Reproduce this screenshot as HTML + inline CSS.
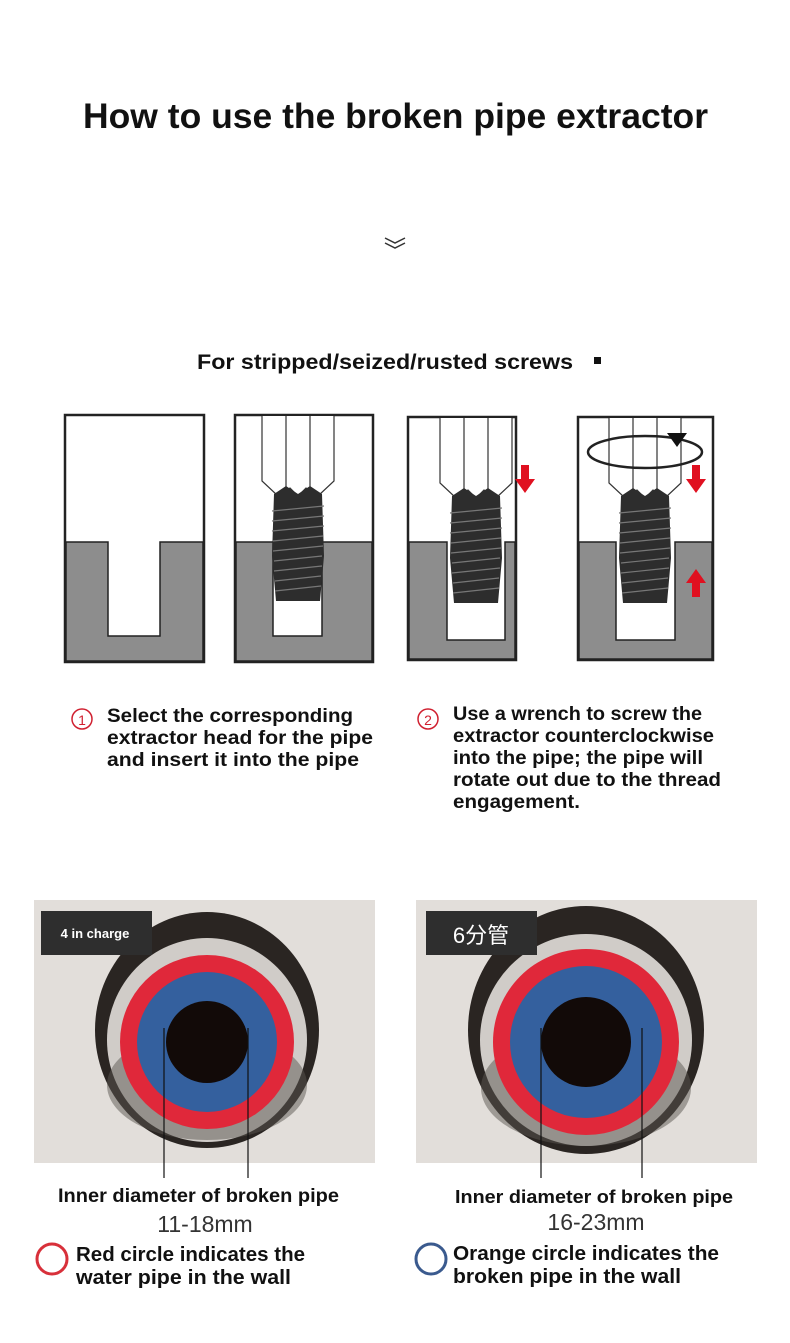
<!DOCTYPE html>
<html><head><meta charset="utf-8"><style>
body{margin:0;background:#fff;}
svg text{font-family:"Liberation Sans","Noto Sans CJK SC",sans-serif;}
</style></head><body>
<svg width="790" height="1338" viewBox="0 0 790 1338" xmlns="http://www.w3.org/2000/svg">
<rect width="790" height="1338" fill="#fff"/>
<text x="83" y="128" font-size="35" font-weight="bold" fill="#111" textLength="625" lengthAdjust="spacingAndGlyphs">How to use the broken pipe extractor</text>
<path d="M385 238 L395 243 L405 238 M385 243 L395 248 L405 243" stroke="#333" stroke-width="1.5" fill="none"/>
<text x="197" y="369" font-size="21" font-weight="bold" fill="#111" textLength="376" lengthAdjust="spacingAndGlyphs">For stripped/seized/rusted screws</text>
<rect x="594" y="357" width="7" height="7" fill="#111"/>

<defs>
<g id="ext">
 <path d="M-36 0 V65 L-20 80 L-8 72 L0 80 L8 72 L20 80 L36 65 V0" fill="#fff" stroke="#333" stroke-width="1.2"/>
 <path d="M-12 0 V72 M12 0 V72" stroke="#333" stroke-width="1.2"/>
 <path d="M-24 78 L-12 70 L0 78 L12 70 L24 78 L26 140 L22 185 L-22 185 L-26 140 Z" fill="#2d2d2d"/>
 <g stroke="#777" stroke-width="1.2">
  <path d="M-26 95 L26 90 M-26 105 L26 100 M-26 115 L26 110 M-25 125 L25 120 M-25 135 L25 130 M-24 145 L24 140 M-24 155 L24 150 M-23 165 L23 160 M-23 175 L23 170"/>
 </g>
</g>
</defs>

<rect x="65" y="415" width="139" height="247" fill="#fff" stroke="#222" stroke-width="2.5"/>
<path d="M66 542 H108 V636 H160 V542 H203 V661 H66 Z" fill="#8d8d8d" stroke="#222" stroke-width="1.5"/>
<rect x="235" y="415" width="138" height="247" fill="#fff" stroke="#222" stroke-width="2.5"/>
<path d="M236 542 H273 V636 H322 V542 H372 V661 H236 Z" fill="#8d8d8d" stroke="#222" stroke-width="1.5"/>
<use href="#ext" transform="translate(298,416)"/>
<rect x="408" y="417" width="108" height="243" fill="#fff" stroke="#222" stroke-width="2.5"/>
<path d="M409 542 H447 V640 H505 V542 H515 V659 H409 Z" fill="#8d8d8d" stroke="#222" stroke-width="1.5"/>
<use href="#ext" transform="translate(476,418)"/>
<path d="M521 465 h8 v14 h6 l-10 14 l-10 -14 h6z" fill="#e01020"/>
<rect x="578" y="417" width="135" height="243" fill="#fff" stroke="#222" stroke-width="2.5"/>
<path d="M579 542 H616 V640 H675 V542 H712 V659 H579 Z" fill="#8d8d8d" stroke="#222" stroke-width="1.5"/>
<use href="#ext" transform="translate(645,418)"/>
<ellipse cx="645" cy="452" rx="57" ry="16" fill="none" stroke="#222" stroke-width="2.5"/>
<path d="M667 433 h20 l-10 14z" fill="#111"/>
<path d="M692 465 h8 v14 h6 l-10 14 l-10 -14 h6z" fill="#e01020"/>
<path d="M692 597 h8 v-14 h6 l-10 -14 l-10 14 h6z" fill="#e01020"/>

<circle cx="82" cy="719" r="10" fill="none" stroke="#d02030" stroke-width="1.5"/>
<text x="82" y="725" text-anchor="middle" font-size="14" fill="#d02030">1</text>
<g font-size="19" font-weight="bold" fill="#111">
<text x="107" y="722" textLength="246" lengthAdjust="spacingAndGlyphs">Select the corresponding</text>
<text x="107" y="744" textLength="266" lengthAdjust="spacingAndGlyphs">extractor head for the pipe</text>
<text x="107" y="766" textLength="252" lengthAdjust="spacingAndGlyphs">and insert it into the pipe</text>
</g>
<circle cx="428" cy="719" r="10" fill="none" stroke="#d02030" stroke-width="1.5"/>
<text x="428" y="725" text-anchor="middle" font-size="14" fill="#d02030">2</text>
<g font-size="19" font-weight="bold" fill="#111">
<text x="453" y="720" textLength="249" lengthAdjust="spacingAndGlyphs">Use a wrench to screw the</text>
<text x="453" y="742" textLength="261" lengthAdjust="spacingAndGlyphs">extractor counterclockwise</text>
<text x="453" y="764" textLength="250" lengthAdjust="spacingAndGlyphs">into the pipe; the pipe will</text>
<text x="453" y="786" textLength="268" lengthAdjust="spacingAndGlyphs">rotate out due to the thread</text>
<text x="453" y="808" textLength="127" lengthAdjust="spacingAndGlyphs">engagement.</text>
</g>

<rect x="34" y="900" width="341" height="263" fill="#e2deda"/>
<ellipse cx="207" cy="1030" rx="112" ry="118" fill="#2a2522"/>
<ellipse cx="207" cy="1040" rx="100" ry="102" fill="#d0ccc8"/>
<ellipse cx="207" cy="1085" rx="100" ry="55" fill="#5a5550" opacity="0.5"/>
<circle cx="207" cy="1042" r="87" fill="#e0283a"/>
<circle cx="207" cy="1042" r="70" fill="#34609e"/>
<circle cx="207" cy="1042" r="41" fill="#120a08"/>
<rect x="41" y="911" width="111" height="44" fill="#2e2e2e"/>
<text x="95" y="938" text-anchor="middle" font-size="13" font-weight="bold" fill="#fff">4 in charge</text>
<path d="M164 1028 V1178 M248 1028 V1178" stroke="#111" stroke-width="1.2"/>

<rect x="416" y="900" width="341" height="263" fill="#e2deda"/>
<ellipse cx="586" cy="1030" rx="118" ry="124" fill="#2a2522"/>
<ellipse cx="586" cy="1040" rx="106" ry="106" fill="#d0ccc8"/>
<ellipse cx="586" cy="1088" rx="105" ry="58" fill="#5a5550" opacity="0.5"/>
<circle cx="586" cy="1042" r="93" fill="#e0283a"/>
<circle cx="586" cy="1042" r="76" fill="#34609e"/>
<circle cx="586" cy="1042" r="45" fill="#120a08"/>
<rect x="426" y="911" width="111" height="44" fill="#2e2e2e"/>
<text x="481" y="943" text-anchor="middle" font-size="22" fill="#fff">6分管</text>
<path d="M541 1028 V1178 M642 1028 V1178" stroke="#111" stroke-width="1.2"/>

<text x="58" y="1202" font-size="19" font-weight="bold" fill="#111" textLength="281" lengthAdjust="spacingAndGlyphs">Inner diameter of broken pipe</text>
<text x="205" y="1232" text-anchor="middle" font-size="23" fill="#333">11-18mm</text>
<circle cx="52" cy="1259" r="15" fill="none" stroke="#d8303a" stroke-width="3"/>
<g font-size="20" font-weight="bold" fill="#111">
<text x="76" y="1261" textLength="229" lengthAdjust="spacingAndGlyphs">Red circle indicates the</text>
<text x="76" y="1284" textLength="215" lengthAdjust="spacingAndGlyphs">water pipe in the wall</text>
</g>
<text x="455" y="1203" font-size="18" font-weight="bold" fill="#111" textLength="278" lengthAdjust="spacingAndGlyphs">Inner diameter of broken pipe</text>
<text x="596" y="1230" text-anchor="middle" font-size="23" fill="#333">16-23mm</text>
<circle cx="431" cy="1259" r="15" fill="none" stroke="#3a5a8e" stroke-width="3"/>
<g font-size="20" font-weight="bold" fill="#111">
<text x="453" y="1260" textLength="266" lengthAdjust="spacingAndGlyphs">Orange circle indicates the</text>
<text x="453" y="1283" textLength="228" lengthAdjust="spacingAndGlyphs">broken pipe in the wall</text>
</g>
</svg>
</body></html>
